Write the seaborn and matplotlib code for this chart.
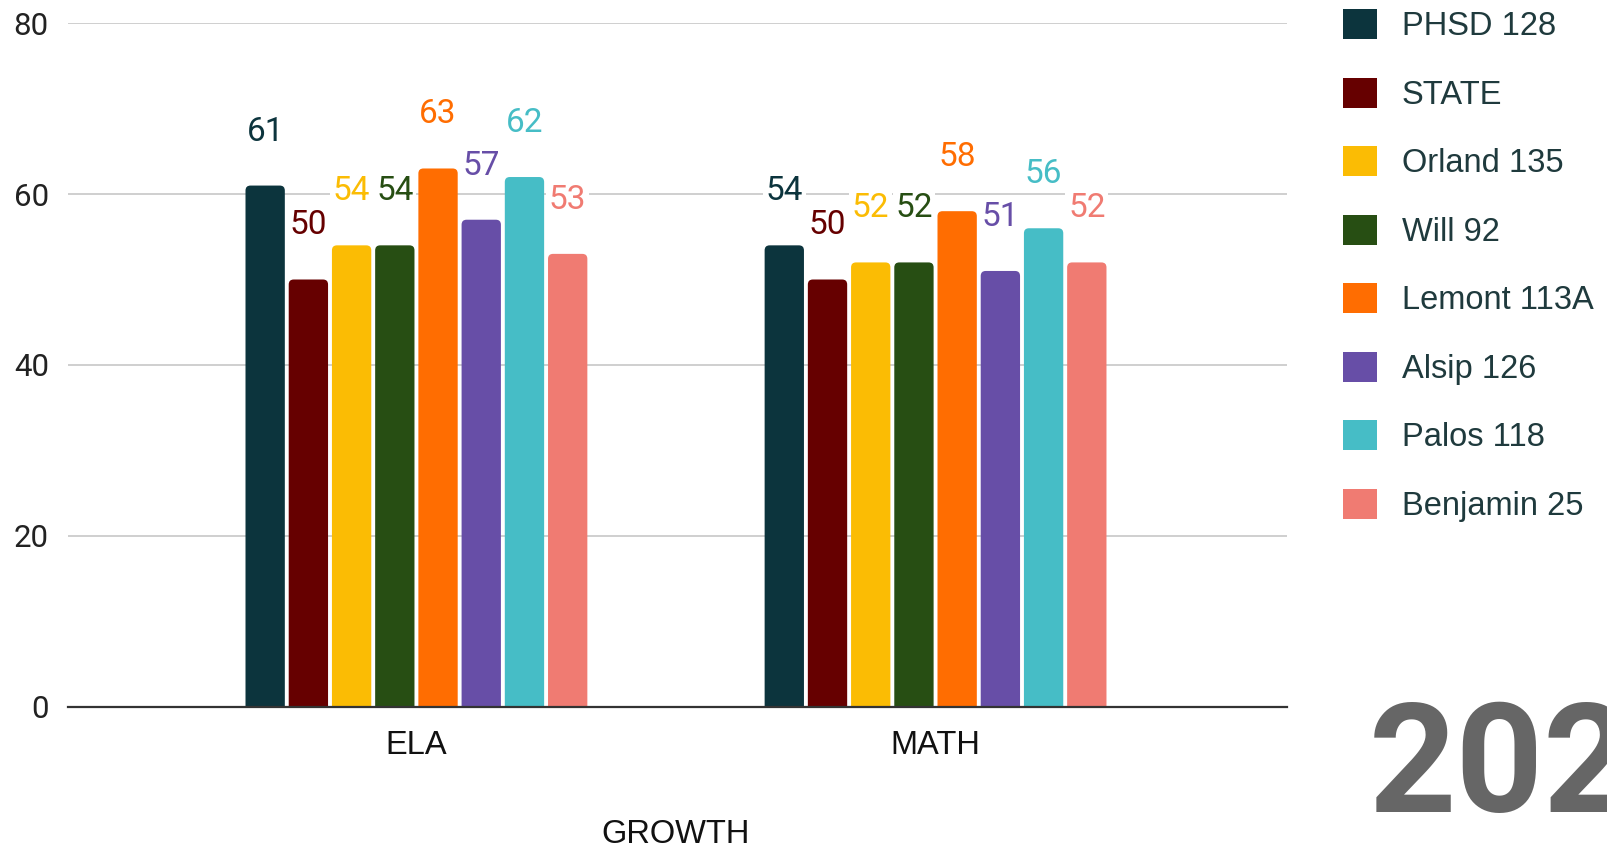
import numpy as np
import pandas as pd
import matplotlib
matplotlib.use("Agg")
import matplotlib.pyplot as plt
import seaborn as sns
from matplotlib.patches import FancyBboxPatch, Patch

# ---- data ----
subjects = ["ELA", "MATH"]
districts = ["PHSD 128", "STATE", "Orland 135", "Will 92",
             "Lemont 113A", "Alsip 126", "Palos 118", "Benjamin 25"]
ela_values = [61, 50, 54, 54, 63, 57, 62, 53]
math_values = [54, 50, 52, 52, 58, 51, 56, 52]
colors = ["#0c343d", "#660000", "#fbbc04", "#274e13",
          "#ff6d01", "#674ea7", "#46bdc6", "#f07b72"]
y_ticks = [0, 20, 40, 60, 80]
x_title = "GROWTH"
year_text = "202"

rows = []
for d, e, m in zip(districts, ela_values, math_values):
    rows.append({"subject": "ELA", "district": d, "value": e})
    rows.append({"subject": "MATH", "district": d, "value": m})
df = pd.DataFrame(rows)

sns.set_theme(style="white")
plt.rcParams["font.family"] = ["Liberation Sans", "DejaVu Sans"]

W, H = 1608, 850
fig = plt.figure(figsize=(W / 100, H / 100), dpi=100)
ax_left, ax_right, ax_top, ax_bottom = 68.3, 1287, 23.3, 706.5
ax = fig.add_axes([ax_left / W, 1 - ax_bottom / H,
                   (ax_right - ax_left) / W, (ax_bottom - ax_top) / H])

sns.barplot(data=df, x="subject", y="value", hue="district",
            hue_order=districts, order=subjects, palette=colors,
            saturation=1, width=0.666, gap=0.09, legend=False, ax=ax,
            zorder=3)

ax.set_ylim(0, 80)
ax.set_xlim(-0.6706, 1.677)
ax.set_yticks(y_ticks)

# rounded tops on bars
px_x = (ax_right - ax_left) / (1.677 + 0.6706)   # px per x unit
px_y = (ax_bottom - ax_top) / 80.0               # px per y unit
aspect = px_x / px_y
r = 5.0 / px_x
for i, cont in enumerate(ax.containers):
    for bar in cont:
        x0, w, h = bar.get_x(), bar.get_width(), bar.get_height()
        fc = bar.get_facecolor()
        bar.set_visible(False)
        fb = FancyBboxPatch((x0, -2), w, h + 2,
                            boxstyle=f"round,pad=0,rounding_size={r}",
                            mutation_aspect=aspect, facecolor=fc,
                            edgecolor="none", zorder=3)
        ax.add_patch(fb)
        ax.annotate(f"{int(round(h))}", xy=(x0 + w / 2, h),
                    xytext=(0, 54 * 0.72), textcoords="offset points",
                    ha="center", va="center", color=colors[i],
                    fontsize=24, family=["Roboto", "DejaVu Sans"],
                    bbox=dict(boxstyle="square,pad=0.08", fc="white",
                              ec="none"), zorder=4)

# grid / spines
ax.grid(False)
for y in y_ticks[1:]:
    ax.axhline(y, color="#cccccc", lw=1.3, zorder=1)
for s in ["top", "right", "left"]:
    ax.spines[s].set_visible(False)
ax.spines["bottom"].set_color("#333333")
ax.spines["bottom"].set_linewidth(1.6)
ax.spines["bottom"].set_zorder(5)

ax.tick_params(axis="y", length=0, pad=14, labelsize=22.5,
               labelcolor="#222222")
for lab in ax.get_yticklabels():
    lab.set_family(["Roboto", "DejaVu Sans"])
ax.tick_params(axis="x", length=0, pad=17, labelsize=23.5,
               labelcolor="#111111")
ax.set_ylabel("")
ax.set_xlabel(x_title, fontsize=23.5, color="#111111")
ax.xaxis.set_label_coords((676 - ax_left) / (ax_right - ax_left),
                          (ax_bottom - 843) / (ax_bottom - ax_top))
ax.xaxis.label.set_va("baseline")

# legend
handles = [Patch(facecolor=c, edgecolor="none", label=d)
           for c, d in zip(colors, districts)]
leg = fig.legend(handles=handles, loc="upper left",
                 bbox_to_anchor=(1343 / W, 1 - 9 / H),
                 frameon=False, fontsize=23.5, handlelength=1.05,
                 handleheight=1.05, handletextpad=0.75, labelspacing=1.08,
                 borderpad=0, borderaxespad=0)
for t in leg.get_texts():
    t.set_color("#1f3a3d")

# big year text (clipped at the right edge, as in the original)
fig.text(1369 / W, 1 - 811.7 / H, year_text, fontsize=110,
         fontweight="bold", color="#666666",
         family=["Roboto", "DejaVu Sans"], ha="left", va="baseline")

fig.savefig("out.png", dpi=100)
